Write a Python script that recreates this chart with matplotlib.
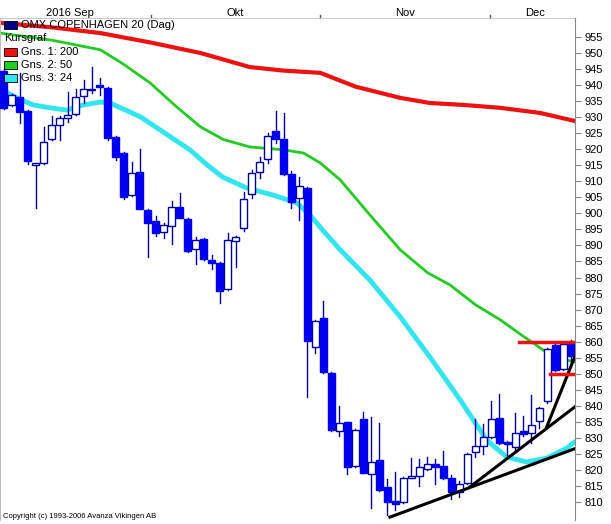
import matplotlib
matplotlib.use("Agg")
import matplotlib.pyplot as plt
from matplotlib.patches import Rectangle

opens  = [944.4,933.8,936.3,931.9,915.2,915.7,923.2,927.6,929.7,931.0,936.6,938.5,939.9,939.1,923.8,918.8,905.7,912.9,
          900.9,897.6,894.2,896.1,902.0,898.2,888.9,892.0,885.5,884.5,876.4,891.4,895.4,906.1,912.9,917.0,925.7,923.2,
          912.3,904.8,907.9,858.3,867.4,850.2,832.1,834.9,821.2,835.9,818.7,823.1,814.7,810.3,810.0,817.6,818.1,820.3,
          821.9,821.2,817.5,813.1,815.9,825.6,827.5,830.3,836.2,828.7,827.2,832.1,831.5,835.3,841.5,859.0,851.5,859.6]
highs  = [945.0,937.2,943.8,932.2,915.8,927.0,930.4,930.4,937.8,938.8,941.6,945.6,942.2,939.5,924.0,919.0,916.0,920.1,
          901.2,899.2,896.9,903.9,906.4,898.4,892.6,892.2,887.0,884.7,893.9,892.9,906.7,913.5,917.6,925.0,931.9,931.3,
          913.2,911.3,908.1,866.9,872.7,850.4,839.9,835.1,832.7,838.1,836.5,834.6,817.2,819.4,817.7,823.7,823.5,824.0,
          823.5,825.9,818.5,816.5,825.3,835.9,834.3,841.5,843.7,828.9,837.8,836.8,843.4,839.6,857.9,859.5,859.6,860.5]
lows   = [932.5,933.5,928.2,915.5,901.7,915.4,922.9,922.9,928.5,930.7,934.4,937.5,936.9,923.0,916.6,904.5,905.4,901.2,
          886.4,893.0,892.3,890.5,898.4,888.0,884.2,885.6,882.7,872.0,876.2,883.3,894.5,904.8,911.0,915.7,922.0,912.0,
          901.7,897.9,842.7,856.5,850.3,832.3,830.6,818.7,821.0,819.0,808.1,813.5,806.0,807.5,809.8,817.5,815.0,820.1,
          815.5,817.3,811.0,811.6,815.5,824.0,825.0,830.0,828.0,824.7,825.5,830.5,828.4,833.0,840.9,851.0,851.3,853.0]
closes = [932.9,936.9,931.6,916.3,915.6,922.3,927.6,929.7,930.7,936.3,938.8,938.9,939.3,923.5,917.6,905.1,912.6,901.4,
          897.0,893.9,896.4,902.0,898.6,888.3,891.7,885.8,884.5,875.8,891.7,892.6,904.5,912.6,916.0,924.1,923.2,912.3,
          903.5,908.5,860.2,866.4,850.5,832.5,834.6,820.9,832.5,819.1,822.5,813.7,810.0,809.4,817.5,818.0,820.9,821.9,
          820.9,817.5,813.1,815.6,825.0,827.5,830.3,835.9,828.4,828.1,831.5,831.2,834.0,839.3,857.7,851.2,859.3,855.5]

ma200_day = [-0.4, 6.0, 12.1, 18.3, 24.6, 30.8, 35.0, 39.6, 44.0, 49.6, 53.3, 57.5, 62.1, 67.1, 71.4]
ma200_val = [959.4, 958.0, 956.2, 953.3, 950.0, 945.6, 944.5, 943.8, 939.5, 936.0, 934.4, 933.8, 932.9, 931.3, 928.8]
ma50_day  = [-0.4, 6.0, 12.1, 15.0, 18.3, 21.5, 24.6, 27.5, 30.8, 35.0, 37.5, 39.6, 42.1, 45.8, 49.6, 53.0,
             55.8, 59.0, 62.1, 64.5, 66.2, 68.7, 71.4]
ma50_val  = [956.2, 954.0, 951.0, 946.5, 940.7, 933.5, 927.0, 923.0, 920.7, 919.8, 918.8, 915.7, 910.4, 899.5,
             888.6, 881.5, 877.7, 871.5, 866.8, 862.5, 859.6, 855.2, 853.7]
ma24_day  = [-0.4, 1.8, 3.7, 5.8, 7.9, 10.0, 12.1, 13.3, 15.0, 17.1, 20.0, 23.3, 25.5, 27.4, 30.4, 33.7, 36.7,
             38.3, 40.0, 42.1, 45.8, 49.6, 53.3, 57.1, 60.4, 62.9, 65.4, 67.9, 70.4, 71.4]
ma24_val  = [938.8, 935.8, 933.8, 932.9, 932.2, 933.8, 934.7, 934.4, 932.5, 930.1, 925.3, 919.8, 915.0, 911.3,
             907.9, 905.7, 903.2, 899.5, 894.5, 888.6, 879.2, 867.7, 855.2, 841.8, 829.3, 824.0, 822.5, 823.7,
             826.8, 828.7]

trend_lines = [((48.3, 805.3), (71.6, 826.8)), ((58.3, 814.7), (71.6, 840.0)), ((67.9, 833.4), (71.4, 855.2))]
res_lines = [((64.4, 71.6), 860.0), ((68.3, 71.6), 850.0)]

month_labels = ["2016 Sep", "Okt", "Nov", "Dec"]
month_label_pos = [8.3, 28.9, 50.2, 66.4]
month_ticks = [18.4, 39.6, 60.8]
yticks = list(range(810, 960, 5))

W, H = 611, 524
fig = plt.figure(figsize=(W/100, H/100), dpi=100)
ax = fig.add_axes([0, 4/H, 575/W, 502/H])
ax.set_xlim(-0.44, 71.44)
ax.set_ylim(804.4, 960.9)

blue = "#0000ee"
navy = "#000099"
ax.plot(ma200_day, ma200_val, color="#ee1111", lw=3, zorder=1, solid_joinstyle="round")
ax.plot(ma50_day, ma50_val, color="#22cc22", lw=2, zorder=1, solid_joinstyle="round")
ax.plot(ma24_day, ma24_val, color="#33e5ee", lw=3.5, zorder=1, solid_joinstyle="round")

w = 0.78
for i, (o, h, l, c) in enumerate(zip(opens, highs, lows, closes)):
    ax.plot([i, i], [l, h], color=navy, lw=1, zorder=2)
    lo, hi = min(o, c), max(o, c)
    if c < o:
        ax.add_patch(Rectangle((i - w/2, lo), w, max(hi - lo, 0.4), facecolor=blue, edgecolor=blue, lw=1, zorder=3))
    else:
        ax.add_patch(Rectangle((i - w/2, lo), w, max(hi - lo, 0.4), facecolor="white", edgecolor=navy, lw=1, zorder=3))

for (x0, y0), (x1, y1) in trend_lines:
    ax.plot([x0, x1], [y0, y1], color="black", lw=2.2, zorder=4)
for (x0, x1), y in res_lines:
    ax.plot([x0, x1], [y, y], color="#ee1111", lw=2.5, zorder=4)

ax.yaxis.tick_right()
ax.set_yticks(yticks)
ax.set_yticklabels([str(v) for v in yticks], fontsize=8, fontfamily="Liberation Sans")
ax.tick_params(axis="y", length=4, color="#888888", pad=3)
ax.set_xticks([])
for s in ["top", "bottom"]:
    ax.spines[s].set_visible(False)
ax.spines["left"].set_color("#bbbbbb")
ax.spines["right"].set_color("#888888")

for lab, p in zip(month_labels, month_label_pos):
    ax.text(p, 1.0, lab, transform=ax.get_xaxis_transform(), ha="center", va="bottom",
            fontsize=8, fontfamily="Liberation Sans")
for t in month_ticks:
    ax.plot([t, t], [1.0, 1.006], transform=ax.get_xaxis_transform(), color="#555555", lw=1, clip_on=False)
ax.plot([-0.44, 71.44], [1.0, 1.0], transform=ax.get_xaxis_transform(), color="#cccccc", lw=0.8, clip_on=False)

leg = [("OMX COPENHAGEN 20 (Dag)", "#000088"), ("Kursgraf", None), ("Gns. 1: 200", "#ee1111"),
       ("Gns. 2: 50", "#22cc22"), ("Gns. 3: 24", "#33e5ee")]
for k, (txt, col) in enumerate(leg):
    ypx = 25 + k * 13.3
    yf = 1 - ypx / H
    if col is not None:
        fig.patches.append(Rectangle((4/W, yf - 4/H), 13/W, 8/H, transform=fig.transFigure,
                                     facecolor=col, edgecolor="black", lw=0.6, zorder=5))
        fig.text(21/W, yf, txt, fontsize=8, va="center", fontfamily="Liberation Sans", zorder=6)
    else:
        fig.text(4/W, yf, txt, fontsize=8, va="center", fontfamily="Liberation Sans", zorder=6)
fig.text(3/W, 1 - 517/H, "Copyright (c) 1993-2006 Avanza Vikingen AB", fontsize=5.5, va="center",
         fontfamily="Liberation Sans")

fig.savefig("out.png", dpi=100)
